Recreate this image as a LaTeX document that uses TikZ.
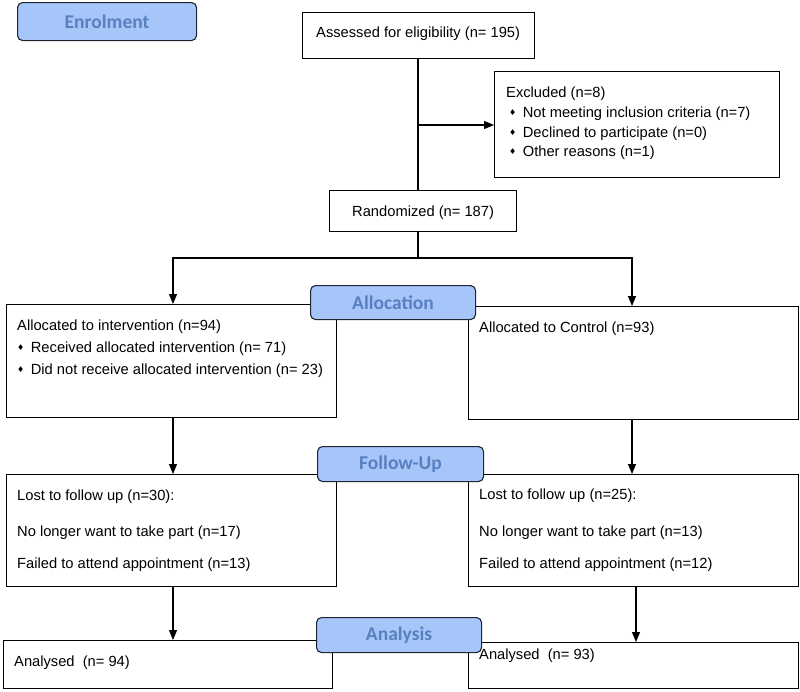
\documentclass[tikz,border=0pt]{standalone}
\usepackage{fontspec}
\setmainfont{Liberation Sans}
\newfontfamily\labfont{Carlito}
\newfontfamily\symfont{DejaVu Sans}
\usetikzlibrary{arrows.meta}
\definecolor{labfill}{RGB}{166,198,250}
\definecolor{labtext}{RGB}{88,128,190}
\definecolor{labedge}{RGB}{30,36,48}
\newcommand{\dmd}{{\symfont\fontsize{8}{8}\selectfont\raisebox{1.5pt}{♦}}\hspace{6.5pt}}
\tikzset{
  boxnode/.style={draw=black, line width=1.1pt, rectangle, inner sep=0pt},
  txt/.style={anchor=base west, inner sep=0pt, font=\fontsize{14.7}{17}\selectfont},
  stagelab/.style={draw=labedge, line width=1.1pt, fill=labfill, rounded corners=5pt, inner sep=0pt,
     text=labtext, font=\labfont\bfseries\fontsize{19.5}{21}\selectfont},
  conn/.style={line width=1.1pt, draw=black},
  arr/.style={conn, -{Triangle[length=10pt,width=8pt]}}
}
\begin{document}
\begin{tikzpicture}[x=1pt,y=-1pt]
\useasboundingbox (0,0) rectangle (800,691);
% boxes
\node[boxnode, minimum width=232pt, minimum height=46pt, anchor=north west] (assess) at (302,12) {};
\node[boxnode, minimum width=285pt, minimum height=106pt, anchor=north west] (excl) at (494,71) {};
\node[boxnode, minimum width=187pt, minimum height=41pt, anchor=north west] (rand) at (329,190) {};
\node[boxnode, minimum width=330pt, minimum height=113pt, anchor=north west] (interv) at (6,304) {};
\node[boxnode, minimum width=330pt, minimum height=113pt, anchor=north west] (ctrl) at (468,306) {};
\node[boxnode, minimum width=330pt, minimum height=112pt, anchor=north west] (fuL) at (6,474) {};
\node[boxnode, minimum width=330pt, minimum height=112pt, anchor=north west] (fuR) at (468,474) {};
\node[boxnode, minimum width=329pt, minimum height=48pt, anchor=north west] (anL) at (3,640) {};
\node[boxnode, minimum width=330pt, minimum height=46pt, anchor=north west] (anR) at (468,642) {};
% texts
\node[txt] (tassess) at (316,37) {Assessed for eligibility (n= 195)};
\node[txt] (texcl1) at (506,97) {Excluded (n=8)};
\node[txt] (texcl2) at (509,117) {\dmd Not meeting inclusion criteria (n=7)};
\node[txt] (texcl3) at (509,137) {\dmd Declined to participate (n=0)};
\node[txt] (texcl4) at (509,156) {\dmd Other reasons (n=1)};
\node[txt] (trand) at (352,216) {Randomized (n= 187)};
\node[txt] (tint1) at (17,330) {Allocated to intervention (n=94)};
\node[txt] (tint2) at (17,352) {\dmd Received allocated intervention (n= 71)};
\node[txt] (tint3) at (17,374) {\dmd Did not receive allocated intervention (n= 23)};
\node[txt] (tctrl) at (479,332) {Allocated to Control (n=93)};
\node[txt] (tfuL1) at (17,500) {Lost to follow up (n=30):};
\node[txt] (tfuL2) at (17,536) {No longer want to take part (n=17)};
\node[txt] (tfuL3) at (17,568) {Failed to attend appointment (n=13)};
\node[txt] (tfuR1) at (479,499) {Lost to follow up (n=25):};
\node[txt] (tfuR2) at (479,536) {No longer want to take part (n=13)};
\node[txt] (tfuR3) at (479,568) {Failed to attend appointment (n=12)};
\node[txt] (tanL) at (14,666) {Analysed\ \ (n= 94)};
\node[txt] (tanR) at (479,659) {Analysed\ \ (n= 93)};
% connectors
\coordinate (split1) at (418,125);
\coordinate (split2) at (418,258);
\draw[conn] (assess.south -| split1) -- (rand.north -| split1);
\draw[arr] (split1) -- (excl.west |- split1);
\draw[conn] (rand.south -| split2) -- (split2);
\draw[arr] (split2) -- (173,258) -- (interv.north -| 173,0);
\draw[arr] (split2) -- (632,258) -- (ctrl.north -| 632,0);
\draw[arr] (interv.south -| 173,0) -- (fuL.north -| 173,0);
\draw[arr] (ctrl.south -| 632,0) -- (fuR.north -| 632,0);
\draw[arr] (fuL.south -| 173,0) -- (anL.north -| 173,0);
\draw[arr] (fuR.south -| 636,0) -- (anR.north -| 636,0);
% stage labels
\node[stagelab, minimum width=179pt, minimum height=38pt, anchor=north west] (enrol) at (17,2) {Enrolment};
\node[stagelab, minimum width=165pt, minimum height=34pt, anchor=north west] (alloc) at (310,285) {Allocation};
\node[stagelab, minimum width=166pt, minimum height=35pt, anchor=north west] (follow) at (317,446) {Follow-Up};
\node[stagelab, minimum width=165pt, minimum height=35pt, anchor=north west] (analysis) at (316,617) {Analysis};
\end{tikzpicture}
\end{document}
